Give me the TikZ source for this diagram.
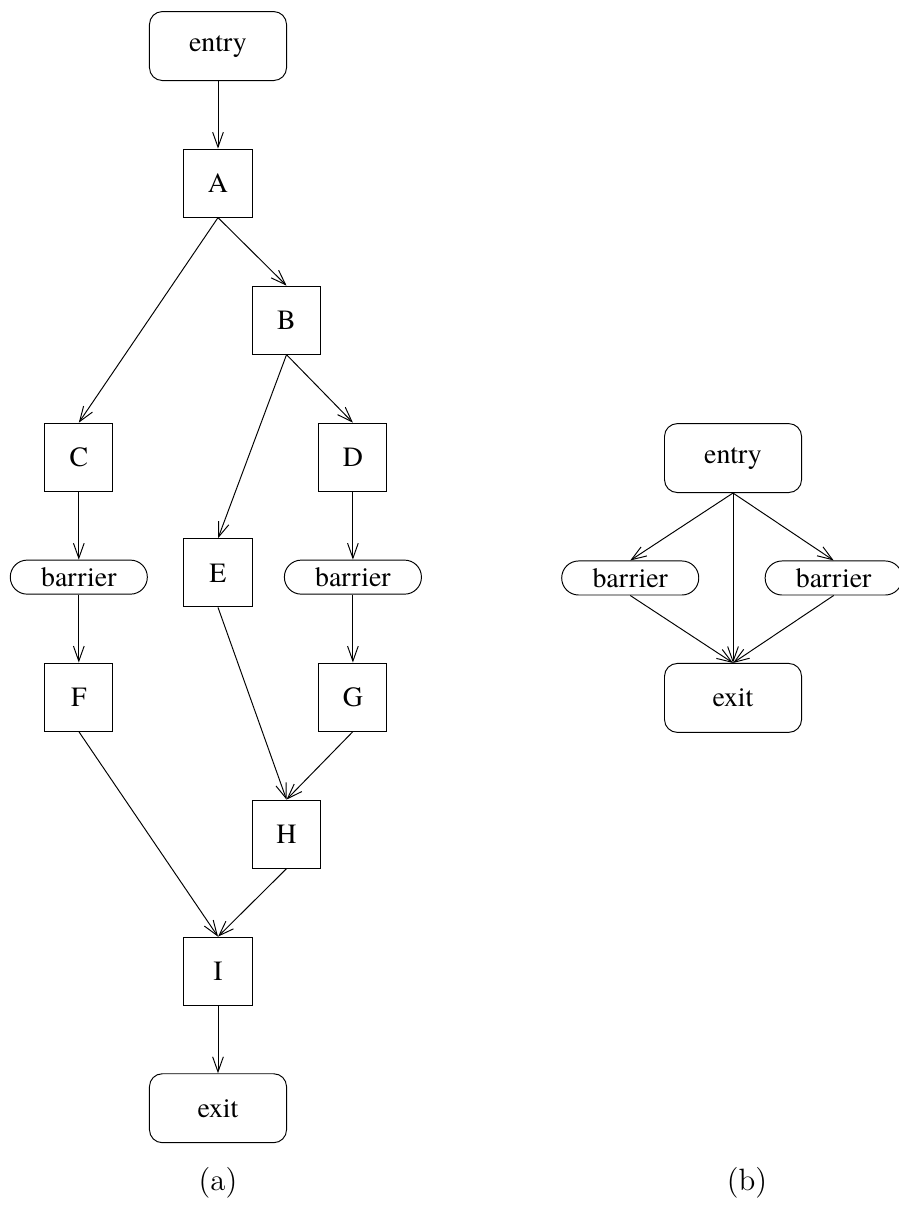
\documentclass[tikz,border=0pt]{standalone}
\usepackage{fontspec}
\usepackage{tikz}
\usetikzlibrary{arrows.meta, positioning}
\newfontfamily\figfont{texgyretermes-regular.otf}
\tikzstyle{arrow} = [line width=0.45pt, -{Straight Barb[length=7pt,width=5pt]}]
\tikzstyle{block} = [rectangle, draw=black, line width=0.45pt, minimum width=31.8pt, minimum height=31.8pt, inner sep=0pt, font=\figfont\fontsize{13}{15}\selectfont]
\tikzstyle{terminal} = [rectangle, rounded corners=6pt, draw=black, line width=0.45pt, minimum width=64pt, minimum height=32.2pt, inner sep=0pt, font=\figfont\fontsize{13}{15}\selectfont]
\tikzstyle{barrierbox} = [rectangle, rounded corners=7.9pt, draw=black, line width=0.45pt, minimum width=64pt, minimum height=15.9pt, inner sep=0pt, font=\figfont\fontsize{13}{15}\selectfont]
\tikzstyle{caption} = [font=\fontsize{14.4}{17}\selectfont]

\begin{document}
\begin{tikzpicture}[node distance=64pt, on grid]
    \useasboundingbox (0,0) rectangle (419.4pt,-565.5pt);

    % (a) flow graph
    \node[terminal] (entryA) at (101.8pt,-21.5pt) {entry};
    \node[block, below=of entryA] (A) {A};
    \node[block, below right=64pt and 32pt of A] (B) {B};
    \node[block, below left=128pt and 65pt of A] (C) {C};
    \node[block, below right=64pt and 31pt of B] (D) {D};
    \node[barrierbox, below=56pt of C] (barC) {barrier};
    \node[barrierbox, below=56pt of D] (barD) {barrier};
    \node[block, below left=118pt and 32pt of B] (E) {E};
    \node[block, below=56pt of barC] (F) {F};
    \node[block, below=56pt of barD] (G) {G};
    \node[block, below left=64pt and 31pt of G] (H) {H};
    \node[block, below left=64pt and 32pt of H] (I) {I};
    \node[terminal, below=of I] (exitA) {exit};
    \node[caption, below=35pt of exitA] (capA) {(a)};

    % (b) reduced graph
    \node[terminal] (entryB) at (342.3pt,-213.9pt) {entry};
    \node[barrierbox, below left=56pt and 48pt of entryB] (barL) {barrier};
    \node[barrierbox, below right=56pt and 47pt of entryB] (barR) {barrier};
    \node[terminal, below=112pt of entryB] (exitB) {exit};
    \node[caption] (capB) at (348.8pt,-552.5pt) {(b)};

    % Edges of (a)
    \draw[arrow] (entryA.south) -- (A.north);
    \draw[arrow] (A.south) -- (B.north);
    \draw[arrow] (A.south) -- (C.north);
    \draw[arrow] (B.south) -- (D.north);
    \draw[arrow] (B.south) -- (E.north);
    \draw[arrow] (C.south) -- (barC.north);
    \draw[arrow] (D.south) -- (barD.north);
    \draw[arrow] (barC.south) -- (F.north);
    \draw[arrow] (barD.south) -- (G.north);
    \draw[arrow] (E.south) -- (H.north);
    \draw[arrow] (G.south) -- (H.north);
    \draw[arrow] (F.south) -- (I.north);
    \draw[arrow] (H.south) -- (I.north);
    \draw[arrow] (I.south) -- (exitA.north);

    % Edges of (b)
    \draw[arrow] (entryB.south) -- (barL.north);
    \draw[arrow] (entryB.south) -- (barR.north);
    \draw[arrow] (entryB.south) -- (exitB.north);
    \draw[arrow] (barL.south) -- (exitB.north);
    \draw[arrow] (barR.south) -- (exitB.north);
\end{tikzpicture}
\end{document}
